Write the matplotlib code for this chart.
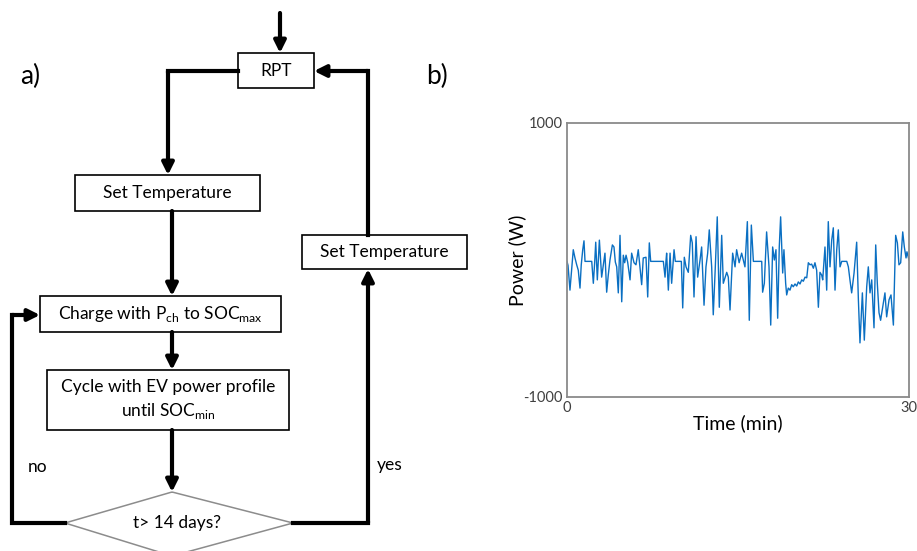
import matplotlib.pyplot as plt
from matplotlib.patches import Rectangle, Polygon

plt.rcParams['font.family'] = ['Lato', 'DejaVu Sans']
plt.rcParams['mathtext.fontset'] = 'custom'
plt.rcParams['mathtext.rm'] = 'Lato'
plt.rcParams['axes.unicode_minus'] = False

# ---- data: EV power profile (time in min, power in W) ----
time_min = [0.0, 0.09, 0.26, 0.41, 0.55, 0.70, 0.85, 0.99, 1.14, 1.25, 1.38, 1.49, 1.58,
            2.17, 2.31, 2.43, 2.52, 2.66, 2.84, 3.04, 3.19, 3.33, 3.48, 3.62, 3.77, 3.98,
            4.12, 4.24, 4.36, 4.50, 4.65, 4.80, 4.94, 5.06, 5.18, 5.32, 5.53, 5.67, 5.88,
            6.05, 6.25, 6.40, 6.55, 6.69, 6.93, 7.08, 7.22, 7.34, 8.45, 8.60, 8.68, 8.74,
            8.89, 9.04, 9.18, 9.39, 9.50, 10.03, 10.15, 10.29, 10.44, 10.64, 10.85, 10.99,
            11.14, 11.32, 11.46, 11.67, 11.81, 12.02, 12.19, 12.34, 12.48, 12.69, 12.83,
            13.01, 13.18, 13.36, 13.57, 13.71, 14.01, 14.15, 14.30, 14.53, 14.74, 14.88,
            15.10, 15.32, 15.47, 15.61, 15.82, 15.99, 16.17, 16.35, 17.08, 17.16, 17.31,
            17.51, 17.72, 17.87, 18.04, 18.19, 18.33, 18.48, 18.62, 18.74, 18.92, 19.03,
            19.18, 19.27, 19.41, 19.56, 19.71, 19.85, 20.00, 20.15, 20.29, 20.44, 20.59,
            20.73, 20.88, 21.03, 21.17, 21.32, 21.46, 21.61, 21.75, 21.90, 22.05, 22.19,
            22.34, 22.43, 22.63, 22.78, 22.92, 23.07, 23.22, 23.36, 23.51, 23.66, 23.80,
            23.95, 24.10, 24.54, 24.68, 24.82, 24.97, 25.18, 25.41, 25.56, 25.70, 25.91,
            26.08, 26.29, 26.43, 26.58, 26.73, 26.93, 27.08, 27.22, 27.37, 27.51, 27.69,
            27.89, 28.04, 28.25, 28.42, 28.63, 28.83, 28.98, 29.12, 29.27, 29.45, 29.59,
            29.74, 29.82, 30.0]
power_w = [-10, -40, -220, -70, 75, 15, -35, -75, -205, -35, 75, 140, -10,
           -10, -170, -15, 130, -145, 145, -125, -35, 50, -235, -110, 0, 110,
           95, -15, -50, -240, 180, -305, 35, -20, 35, -15, -145, 50, -20,
           -35, 75, -50, -180, 15, 20, -270, 125, -10, -10, -125, -10, 50,
           -220, 50, -170, 75, -10, -10, -350, 20, -50, -90, 180, 125,
           -270, 170, -125, 0, 95, -330, -50, 50, 220, -50, -400,
           -50, 315, -345, 180, -170, -90, -125, -365, 50, -50, 75,
           -20, 50, 0, -50, 280, -440, 255, -10, -10, -235, -170,
           205, -50, -475, 95, 0, 75, -425, 95, 315, -95, 75,
           -170, -255, -205, -220, -180, -195, -175, -190, -160, -175, -145,
           -155, -125, -130, -20, -35, -30, -60, -20, -75, -345, -90,
           -110, -145, 95, -220, 280, -50, 145, 235, -220, 75, 220,
           -50, -10, -10, -50, -145, -240, -95, 130, -290, -605, -240,
           -585, -195, -50, -240, -145, -495, 110, -170, -385, -440, -345,
           -240, -415, -290, -255, -475, 180, 125, -35, -20, 205, 95,
           15, 60, 0]

# ---- flowchart content ----
box_texts = ["RPT", "Set Temperature",
             r"Charge with P$_\mathregular{ch}$ to SOC$_\mathregular{max}$",
             "Cycle with EV power profile\nuntil SOC$_\mathregular{min}$",
             "Set Temperature"]
decision_text = "t> 14 days?"
branch_labels = ["no", "yes"]
panel_labels = ["a)", "b)"]

W, H = 917, 551
fig = plt.figure(figsize=(W / 100, H / 100), dpi=100)

# full-figure axes in pixel coordinates for the flowchart
fc = fig.add_axes([0, 0, 1, 1])
fc.set_xlim(0, W)
fc.set_ylim(H, 0)
fc.axis('off')

# boxes: (x0, y0, x1, y1)
boxes = [(238, 53, 314, 88), (75, 175, 260, 211), (40, 296, 281, 332),
         (47, 370, 289, 430), (302, 235, 467, 269)]
for (x0, y0, x1, y1), txt in zip(boxes, box_texts):
    fc.add_patch(Rectangle((x0, y0), x1 - x0, y1 - y0, fill=False, ec='black', lw=1.2))
    fc.text((x0 + x1) / 2, (y0 + y1) / 2, txt, ha='center', va='center',
            fontsize=12.5, linespacing=1.4)

fc.add_patch(Polygon([(172, 492), (293, 523), (172, 556), (65, 523)], closed=True,
                     fill=False, ec='#8c8c8c', lw=1.1, clip_on=False))
fc.text(177, 523, decision_text, ha='center', va='center', fontsize=12.5)


def connector(pts):
    xs = [p[0] for p in pts]
    ys = [p[1] for p in pts]
    if len(pts) > 2:
        fc.plot(xs[:-1], ys[:-1], color='black', lw=3, solid_capstyle='projecting',
                solid_joinstyle='miter')
    fc.annotate('', xy=pts[-1], xytext=pts[-2],
                arrowprops=dict(arrowstyle='-|>,head_width=0.35,head_length=0.7',
                                lw=3, color='black', shrinkA=0, shrinkB=0))


connector([(280, 13), (280, 53)])
connector([(238, 71), (168, 71), (168, 175)])
connector([(172, 211), (172, 296)])
connector([(65, 523), (12, 523), (12, 315), (40, 315)])
connector([(172, 332), (172, 370)])
connector([(172, 430), (172, 492)])
connector([(293, 523), (368, 523), (368, 269)])
connector([(368, 235), (368, 71), (314, 71)])

fc.text(38, 467, branch_labels[0], ha='center', va='center', fontsize=12.5)
fc.text(390, 465, branch_labels[1], ha='center', va='center', fontsize=12.5)
fc.text(30, 76, panel_labels[0], ha='center', va='center', fontsize=19)
fc.text(437, 76, panel_labels[1], ha='center', va='center', fontsize=19)

# ---- power profile plot ----
ax = fig.add_axes([567 / W, 1 - 397 / H, (909 - 567) / W, (397 - 123) / H])
ax.plot(time_min, power_w, color='#0a6fc2', lw=1.0)
ax.set_xlim(0, 30)
ax.set_ylim(-1000, 1000)
ax.set_xticks([0, 30])
ax.set_yticks([-1000, 1000])
ax.tick_params(length=0, labelsize=10.5, colors='#404040', pad=3)
for s in ax.spines.values():
    s.set_color('#8a8a8a')
    s.set_linewidth(1.3)
ax.set_xlabel('Time (min)', fontsize=14, labelpad=-1)
ax.set_ylabel('Power (W)', fontsize=14, labelpad=-2)

fig.savefig('out.png', dpi=100)
